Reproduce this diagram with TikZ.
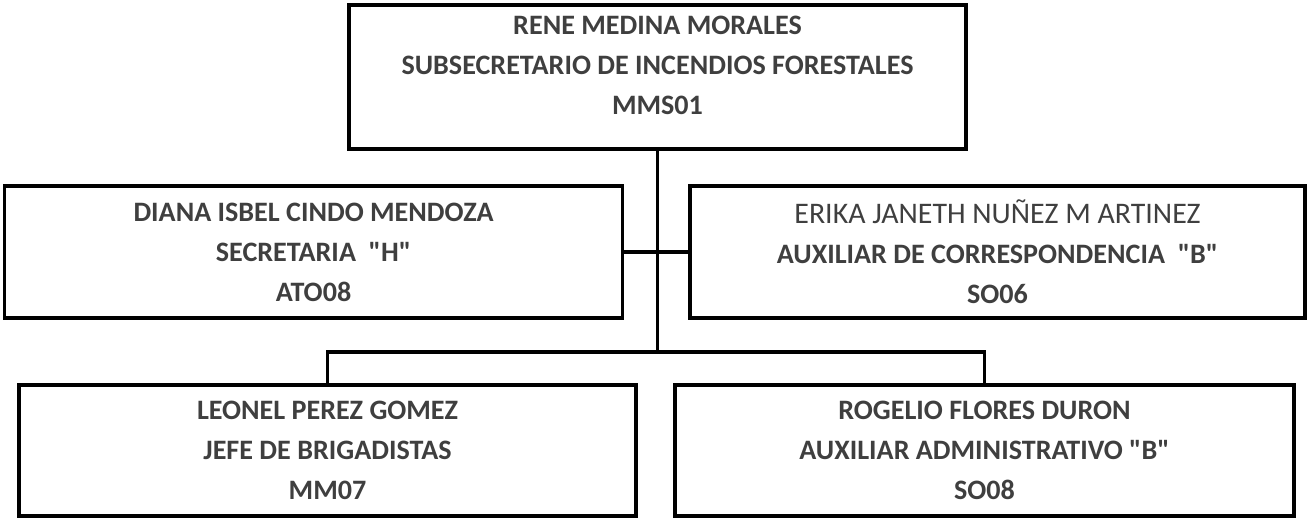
\documentclass[tikz,border=0pt]{standalone}
\usepackage{fontspec}
\setmainfont{Carlito}
\newfontfamily\letra{Carlito}
\usepackage{tikz}
\usetikzlibrary{positioning}
\definecolor{texto}{HTML}{3F3F3F}
\tikzset{puesto/.style={draw, line width=2.2pt, text=texto, align=center, inner sep=0pt,
  font=\letra\bfseries\fontsize{16}{22.8}\selectfont}}

\begin{document}
\begin{tikzpicture}[x=0.02cm,y=-0.02cm]
\useasboundingbox (0,0) rectangle (1310,521);
\node[puesto, minimum width=12.34cm, minimum height=2.88cm] (subsec) at (657.5,77)
  {RENE MEDINA MORALES\\SUBSECRETARIO DE INCENDIOS FORESTALES\\MMS01\rule[-0.46cm]{0pt}{0pt}};
\node[puesto, minimum width=12.36cm, minimum height=2.64cm] (secret) at (313.5,252)
  {DIANA ISBEL CINDO MENDOZA\\SECRETARIA \ "H"\\ATO08};
\node[puesto, minimum width=12.30cm, minimum height=2.64cm] (auxcorr) at (997.5,252)
  {{\mdseries\fontsize{17}{22.8}\selectfont ERIKA JANETH NUÑEZ M ARTINEZ}\\AUXILIAR DE CORRESPONDENCIA \ "B"\\SO06};
\node[puesto, minimum width=12.34cm, minimum height=2.62cm] (jefe) at (327.5,450.5)
  {LEONEL PEREZ GOMEZ\\JEFE DE BRIGADISTAS\\MM07};
\node[puesto, minimum width=12.38cm, minimum height=2.62cm] (auxadm) at (984.5,450.5)
  {ROGELIO FLORES DURON\\AUXILIAR ADMINISTRATIVO "B"\\SO08};
\coordinate (bus) at (656,352);
% lineas de mando
\draw[line width=2pt] (subsec.south) -- (subsec.south |- bus);
\draw[line width=2pt] (secret.east) -- (auxcorr.west);
\draw[line width=2pt] (jefe.north) -- (jefe.north |- bus) -- (auxadm.north |- bus) -- (auxadm.north);
\end{tikzpicture}
\end{document}
